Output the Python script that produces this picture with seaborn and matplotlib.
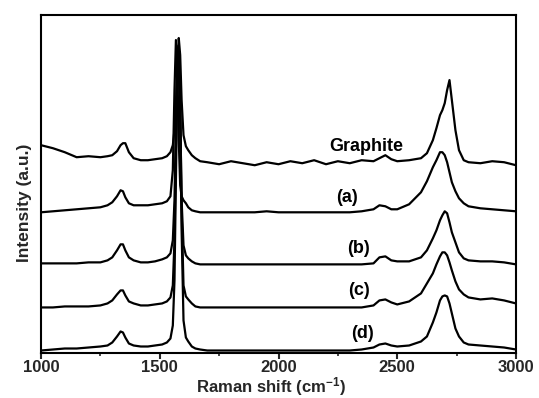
import matplotlib
matplotlib.use("Agg")
import matplotlib.pyplot as plt
from matplotlib.ticker import MultipleLocator
import numpy as np
import pandas as pd
import seaborn as sns

# Raman shift grid (cm^-1), denser around the D, G and 2D bands
shift = [1000, 1050, 1100, 1150, 1200, 1250, 1280, 1300, 1320, 1335, 1345, 1355,
         1370, 1390, 1420, 1450, 1480, 1510, 1530, 1545, 1555, 1562, 1568, 1574,
         1580, 1586, 1592, 1600, 1610, 1620, 1635, 1650, 1670, 1700, 1750, 1800,
         1850, 1900, 1950, 2000, 2050, 2100, 2150, 2200, 2250, 2300, 2350, 2400,
         2425, 2450, 2475, 2500, 2550, 2600, 2625, 2650, 2665, 2680, 2690, 2700,
         2710, 2720, 2730, 2745, 2760, 2780, 2800, 2850, 2900, 2950, 3000]

# Stacked intensities (a.u.) for each sample
graphite = [207, 204, 200, 195, 196, 195, 196, 197, 201, 207, 209, 209,
            200, 194, 192, 192, 193, 194, 196, 200, 207, 222, 247, 282,
            314, 297, 252, 217, 206, 202, 197, 194, 191, 190, 188, 191,
            189, 187, 190, 188, 191, 189, 192, 188, 191, 189, 192, 191,
            194, 197, 193, 191, 192, 194, 199, 212, 224, 237, 242, 249,
            262, 272, 252, 222, 202, 192, 190, 189, 191, 190, 187]

sample_a = [140, 141, 142, 143, 144, 145, 147, 150, 156, 162, 161, 155,
            149, 147, 147, 147, 148, 149, 151, 156, 182, 262, 312, 282,
            212, 167, 156, 152, 149, 145, 142, 141, 140, 140, 140, 140,
            140, 140, 141, 140, 140, 140, 140, 140, 140, 140, 141, 143,
            147, 146, 143, 143, 148, 160, 171, 185, 192, 200, 200, 197,
            190, 180, 170, 161, 154, 149, 146, 144, 143, 142, 141]

sample_b = [89, 89, 89, 89, 90, 90, 92, 95, 102, 108, 108, 102,
            95, 92, 90, 90, 91, 93, 95, 99, 112, 152, 232, 297,
            307, 242, 152, 107, 97, 94, 91, 89, 88, 88, 88, 88,
            88, 88, 88, 88, 88, 88, 88, 88, 88, 88, 88, 89,
            95, 96, 92, 91, 91, 95, 102, 114, 122, 132, 137, 141,
            139, 130, 120, 110, 100, 94, 92, 91, 91, 90, 88]

sample_c = [45, 45, 46, 46, 46, 47, 49, 52, 58, 62, 62, 57,
            51, 49, 47, 47, 48, 49, 51, 55, 67, 112, 202, 282,
            304, 252, 142, 67, 56, 53, 49, 46, 45, 45, 45, 45,
            45, 45, 45, 45, 45, 45, 45, 45, 45, 45, 45, 47,
            52, 53, 50, 48, 51, 59, 69, 79, 88, 96, 100, 100,
            97, 90, 82, 71, 63, 58, 55, 53, 54, 52, 49]

sample_d = [2, 3, 4, 4, 5, 6, 7, 10, 16, 21, 20, 15,
            9, 7, 6, 6, 7, 8, 10, 14, 27, 72, 172, 272,
            302, 242, 122, 32, 15, 11, 6, 4, 3, 2, 2, 2,
            2, 2, 2, 2, 2, 2, 2, 2, 2, 2, 3, 5,
            8, 9, 7, 6, 7, 11, 16, 30, 40, 52, 56, 57,
            56, 49, 39, 24, 16, 10, 8, 7, 6, 5, 3]

labels = ["Graphite", "(a)", "(b)", "(c)", "(d)"]
label_x = [2368, 2288, 2335, 2339, 2352]
label_y = [206, 155, 104, 62, 19]

spectra = [graphite, sample_a, sample_b, sample_c, sample_d]
frames = [pd.DataFrame({"shift": shift, "intensity": vals, "sample": name})
          for name, vals in zip(labels, spectra)]
df = pd.concat(frames, ignore_index=True)

sns.set_style("ticks")
plt.rcParams["font.family"] = ["Liberation Sans", "DejaVu Sans"]
plt.rcParams["font.weight"] = "bold"
plt.rcParams["mathtext.fontset"] = "custom"
plt.rcParams["mathtext.rm"] = "Liberation Sans:bold"
plt.rcParams["mathtext.bf"] = "Liberation Sans:bold"
plt.rcParams["mathtext.default"] = "rm"

fig = plt.figure(figsize=(5.39, 3.98), dpi=100)
ax = fig.add_axes([0.0761, 0.1143, 0.8812, 0.848])

sns.lineplot(data=df, x="shift", y="intensity", hue="sample",
             palette=["black"] * len(labels), estimator=None, sort=False,
             linewidth=1.6, legend=False, ax=ax)

for txt, tx, ty in zip(labels, label_x, label_y):
    ax.text(tx, ty, txt, ha="center", va="center", fontsize=13,
            fontweight="bold", color="black")

ax.set_xlim(1000, 3000)
ax.set_ylim(0, 337)
ax.xaxis.set_major_locator(MultipleLocator(500))
ax.xaxis.set_minor_locator(MultipleLocator(250))
ax.set_yticks([])
ax.tick_params(axis="x", which="major", direction="out", length=4, width=1.5,
               labelsize=12, pad=1.5)
ax.tick_params(axis="x", which="minor", direction="out", length=2.5, width=1.2)
for lab in ax.get_xticklabels():
    lab.set_fontweight("bold")
for side in ["left", "right", "top", "bottom"]:
    ax.spines[side].set_visible(True)
    ax.spines[side].set_linewidth(1.5)
    ax.spines[side].set_color("black")

ax.set_xlabel("Raman shift (cm$^{-1}$)", fontsize=12, fontweight="bold")
ax.set_ylabel("Intensity (a.u.)", fontsize=12.5, fontweight="bold")
ax.xaxis.set_label_coords(0.484, -0.066)
ax.yaxis.set_label_coords(-0.02, 0.445)

fig.savefig("out.png", dpi=100)
